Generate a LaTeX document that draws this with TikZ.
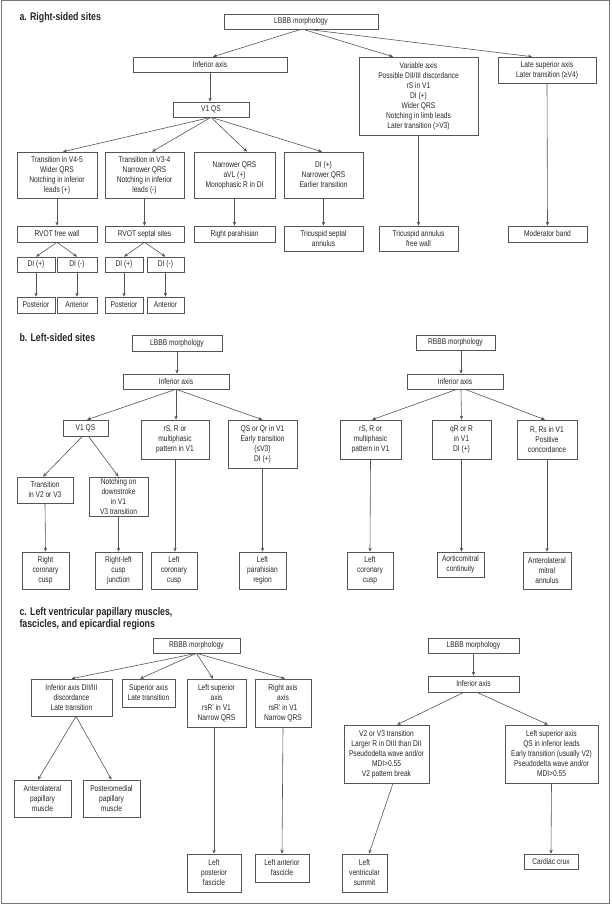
\documentclass[tikz,border=0pt]{standalone}
\usepackage{fontspec}
\setmainfont{Liberation Sans}[FakeStretch=0.8]
\usepackage{xcolor}
\usepackage{tikz}
\usetikzlibrary{arrows.meta}
\definecolor{linegray}{HTML}{555555}
\definecolor{textgray}{HTML}{262626}
\definecolor{framegray}{HTML}{777777}

\tikzset{
	box/.style={draw=linegray, line width=0.6pt, text=textgray, align=center, inner sep=1pt,
		font=\fontsize{8.3}{10}\selectfont},
	arr/.style={draw=linegray, line width=0.6pt, -{Stealth[length=4pt,width=3.4pt]}},
	title/.style={anchor=west, align=left, text=textgray, font=\fontsize{11}{12}\selectfont\bfseries}
}

\begin{document}
\begin{tikzpicture}[x=1pt,y=-1pt]
		\useasboundingbox (0,0) rectangle (612,905);
		\draw[framegray, line width=0.8pt] (1.5,0.5) rectangle (609,903.5);

		% a. right-sided sites
		\node[title] (ta) at (16,18) {a. Right-sided sites};
		\node[box, minimum width=154pt, minimum height=15pt] (lbbbA) at (301,21.5) {LBBB morphology};
		\node[box, minimum width=154pt, minimum height=15pt] (infA) at (210,64.5) {Inferior axis};
		\node[box, minimum width=76pt, minimum height=15pt] (v1A) at (211,109.5) {V1 QS};
		\node[box, minimum width=119pt, minimum height=78pt] (varA) at (418.5,96) {Variable axis\\Possible DII/III discordance\\rS in V1\\DI (+)\\Wider QRS\\Notching in limb leads\\Later transition (>V3)};
		\node[box, minimum width=98pt, minimum height=26pt] (lateA) at (547,70) {Late superior axis\\Later transition (≥V4)};
		\node[box, minimum width=80pt, minimum height=46pt] (trfA) at (57,175) {Transition in V4-5\\Wider QRS\\Notching in inferior\\leads (+)};
		\node[box, minimum width=79pt, minimum height=46pt] (trtA) at (144.5,175) {Transition in V3-4\\Narrower QRS\\Notching in inferior\\leads (-)};
		\node[box, minimum width=81pt, minimum height=46pt] (narA) at (234.5,175) {Narrower QRS\\aVL (+)\\Monophasic R in DI};
		\node[box, minimum width=79pt, minimum height=46pt] (diA) at (323.5,175) {DI (+)\\Narrower QRS\\Earlier transition};
		\node[box, minimum width=80pt, minimum height=16pt] (rvfw) at (57,234) {RVOT free wall};
		\node[box, minimum width=79pt, minimum height=16pt] (rvss) at (144.5,234) {RVOT septal sites};
		\node[box, minimum width=81pt, minimum height=16pt] (rpara) at (234.5,234) {Right parahisian};
		\node[box, minimum width=79pt, minimum height=25pt] (tsa) at (323.5,238.5) {Tricuspid septal\\annulus};
		\node[box, minimum width=79pt, minimum height=25pt] (tafw) at (418.5,238.5) {Tricuspid annulus\\free wall};
		\node[box, minimum width=79pt, minimum height=16pt] (modb) at (547.5,234) {Moderator band};
		\node[box, minimum width=38pt, minimum height=15pt] (dipA) at (36,264.5) {DI (+)};
		\node[box, minimum width=40pt, minimum height=15pt] (dimA) at (77,264.5) {DI (-)};
		\node[box, minimum width=38pt, minimum height=15pt] (dipB) at (124,264.5) {DI (+)};
		\node[box, minimum width=37pt, minimum height=15pt] (dimB) at (165.5,264.5) {DI (-)};
		\node[box, minimum width=38pt, minimum height=16pt] (postA) at (36,305) {Posterior};
		\node[box, minimum width=40pt, minimum height=16pt] (antA) at (77,305) {Anterior};
		\node[box, minimum width=38pt, minimum height=16pt] (postB) at (124,305) {Posterior};
		\node[box, minimum width=37pt, minimum height=16pt] (antB) at (165.5,305) {Anterior};

		\draw[arr] (lbbbA.south) -- ([xshift=3pt]infA.north);
		\draw[arr] ([xshift=2pt]lbbbA.south) -- ([xshift=-25.5pt]varA.north);
		\draw[arr] ([xshift=6pt]lbbbA.south) -- ([xshift=-15pt]lateA.north);
		\draw[arr] (infA.south) -- (infA.south |- v1A.north);
		\draw[arr] (v1A.south) -- ([xshift=6pt]trfA.north);
		\draw[arr] (v1A.south) -- ([xshift=7.5pt]trtA.north);
		\draw[arr] (v1A.south) -- ([xshift=12.5pt]narA.north);
		\draw[arr] (v1A.south) -- ([xshift=-1.5pt]diA.north);
		\draw[arr] (trfA.south) -- (rvfw.north);
		\draw[arr] (trtA.south) -- (rvss.north);
		\draw[arr] (narA.south) -- (rpara.north);
		\draw[arr] (diA.south) -- (tsa.north);
		\draw[arr] (varA.south) -- (tafw.north);
		\draw[arr] (lateA.south) -- (modb.north);
		\draw[arr] (rvfw.south) -- (dipA.north);
		\draw[arr] (rvfw.south) -- (dimA.north);
		\draw[arr] (rvss.south) -- (dipB.north);
		\draw[arr] (rvss.south) -- (dimB.north);
		\draw[arr] (dipA.south) -- (postA.north);
		\draw[arr] (dimA.south) -- (antA.north);
		\draw[arr] (dipB.south) -- (postB.north);
		\draw[arr] (dimB.south) -- (antB.north);

		% b. left-sided sites
		\node[title] (tb) at (16,338) {b. Left-sided sites};
		\node[box, minimum width=90pt, minimum height=16pt] (lbbbB) at (177,343) {LBBB morphology};
		\node[box, minimum width=106pt, minimum height=15pt] (infB) at (176,381.5) {Inferior axis};
		\node[box, minimum width=45pt, minimum height=16pt] (v1B) at (85.5,428) {V1 QS};
		\node[box, minimum width=68pt, minimum height=39pt] (rsB) at (175,439.5) {rS, R or\\multiphasic\\pattern in V1};
		\node[box, minimum width=69pt, minimum height=48pt] (qsB) at (262.5,444) {QS or Qr in V1\\Early transition\\(≤V3)\\DI (+)};
		\node[box, minimum width=56pt, minimum height=26pt] (trB) at (45,490) {Transition\\in V2 or V3};
		\node[box, minimum width=59pt, minimum height=39pt] (notchB) at (118.5,496.5) {Notching on\\downstroke\\in V1\\V3 transition};
		\node[box, minimum width=47pt, minimum height=37pt] (rcc) at (45.5,570.5) {Right\\coronary\\cusp};
		\node[box, minimum width=47pt, minimum height=37pt] (rlcj) at (118.5,570.5) {Right-left\\cusp\\junction};
		\node[box, minimum width=46pt, minimum height=37pt] (lccB) at (174,570.5) {Left\\coronary\\cusp};
		\node[box, minimum width=47pt, minimum height=37pt] (lpr) at (262.5,570.5) {Left\\parahisian\\region};
		\node[box, minimum width=79pt, minimum height=15pt] (rbbbB) at (455.5,342.5) {RBBB morphology};
		\node[box, minimum width=96pt, minimum height=15pt] (infR) at (455,381.5) {Inferior axis};
		\node[box, minimum width=61pt, minimum height=39pt] (rsR) at (370.5,439.5) {rS, R or\\multiphasic\\pattern in V1};
		\node[box, minimum width=59pt, minimum height=39pt] (qrR) at (461.5,439.5) {qR or R\\in V1\\DI (+)};
		\node[box, minimum width=60pt, minimum height=39pt] (rrsR) at (547,439.5) {R, Rs in V1\\Positive\\concordance};
		\node[box, minimum width=46pt, minimum height=37pt] (lccR) at (370,570.5) {Left\\coronary\\cusp};
		\node[box, minimum width=47pt, minimum height=25pt] (amc) at (460.5,564.5) {Aorticomitral\\continuity};
		\node[box, minimum width=48pt, minimum height=37pt] (ama) at (547,570.5) {Anterolateral\\mitral\\annulus};

		\draw[arr] (lbbbB.south) -- (lbbbB.south |- infB.north);
		\draw[arr] (infB.south) -- ([xshift=1.5pt]v1B.north);
		\draw[arr] (infB.south) -- (infB.south |- rsB.north);
		\draw[arr] (infB.south) -- (qsB.north);
		\draw[arr] ([xshift=-3pt]v1B.south) -- ([xshift=-2pt]trB.north);
		\draw[arr] ([xshift=3pt]v1B.south) -- (notchB.north);
		\draw[arr] (trB.south) -- (rcc.north);
		\draw[arr] (notchB.south) -- (rlcj.north);
		\draw[arr] (rsB.south) -- (rsB.south |- lccB.north);
		\draw[arr] (qsB.south) -- (lpr.north);
		\draw[arr] ([xshift=5.5pt]rbbbB.south) -- ([xshift=6pt]infR.north);
		\draw[arr] ([xshift=2pt]infR.south) -- ([xshift=1.5pt]rsR.north);
		\draw[arr] ([xshift=6pt]infR.south) -- (qrR.north);
		\draw[arr] ([xshift=10pt]infR.south) -- ([xshift=-2pt]rrsR.north);
		\draw[arr] (rsR.south) -- (lccR.north);
		\draw[arr] (qrR.south) -- (qrR.south |- amc.north);
		\draw[arr] (rrsR.south) -- (ama.north);

		% c. papillary muscles, fascicles, epicardial regions
		\node[title] (tc) at (16,619) {c. Left ventricular papillary muscles,\\fascicles, and epicardial regions};
		\node[box, minimum width=87pt, minimum height=15pt] (rbbbC) at (196.5,645.5) {RBBB morphology};
		\node[box, minimum width=81pt, minimum height=37pt] (infC) at (71.5,697.5) {Inferior axis DII/III\\discordance\\Late transition};
		\node[box, minimum width=53pt, minimum height=28pt] (supC) at (148.5,693) {Superior axis\\Late transition};
		\node[box, minimum width=59pt, minimum height=48pt] (lsaC) at (216.5,703) {Left superior\\axis\\rsR' in V1\\Narrow QRS};
		\node[box, minimum width=56pt, minimum height=48pt] (raC) at (283,703) {Right axis\\axis\\rsR' in V1\\Narrow QRS};
		\node[box, minimum width=57pt, minimum height=37pt] (alpm) at (42.5,798.5) {Anterolateral\\papillary\\muscle};
		\node[box, minimum width=57pt, minimum height=37pt] (pmpm) at (111.5,798.5) {Posteromedial\\papillary\\muscle};
		\node[box, minimum width=54pt, minimum height=38pt] (lpf) at (214,873) {Left\\posterior\\fascicle};
		\node[box, minimum width=54pt, minimum height=28pt] (laf) at (282,868) {Left anterior\\fascicle};
		\node[box, minimum width=91pt, minimum height=15pt] (lbbbC) at (473.5,645.5) {LBBB morphology};
		\node[box, minimum width=91pt, minimum height=16pt] (infL) at (473.5,684) {Inferior axis};
		\node[box, minimum width=85pt, minimum height=58pt] (v2C) at (386.5,754) {V2 or V3 transition\\Larger R in DIII than DII\\Pseudodelta wave and/or\\MDI>0.55\\V2 pattern break};
		\node[box, minimum width=93pt, minimum height=58pt] (lsaL) at (551.5,754) {Left superior axis\\QS in inferior leads\\Early transition (usually V2)\\Pseudodelta wave and/or\\MDI>0.55};
		\node[box, minimum width=45pt, minimum height=38pt] (lvs) at (364.5,873) {Left\\ventricular\\summit};
		\node[box, minimum width=54pt, minimum height=15pt] (crux) at (551,861.5) {Cardiac crux};

		\draw[arr] (rbbbC.south) -- (infC.north);
		\draw[arr] (rbbbC.south) -- ([xshift=-8.5pt]supC.north);
		\draw[arr] (rbbbC.south) -- ([xshift=-3.5pt]lsaC.north);
		\draw[arr] (rbbbC.south) -- ([xshift=2pt]raC.north);
		\draw[arr] ([xshift=4.5pt]infC.south) -- ([xshift=-4.5pt]alpm.north);
		\draw[arr] ([xshift=4.5pt]infC.south) -- (pmpm.north);
		\draw[arr] ([xshift=-2.5pt]lsaC.south) -- (lpf.north);
		\draw[arr] (raC.south) -- (laf.north);
		\draw[arr] (lbbbC.south) -- (infL.north);
		\draw[arr] ([xshift=-9.5pt]infL.south) -- ([xshift=10.5pt]v2C.north);
		\draw[arr] ([xshift=3.5pt]infL.south) -- ([xshift=-3.5pt]lsaL.north);
		\draw[arr] ([xshift=6.5pt]v2C.south) -- ([xshift=4.5pt]lvs.north);
		\draw[arr] (lsaL.south) -- (crux.north);
\end{tikzpicture}
\end{document}
